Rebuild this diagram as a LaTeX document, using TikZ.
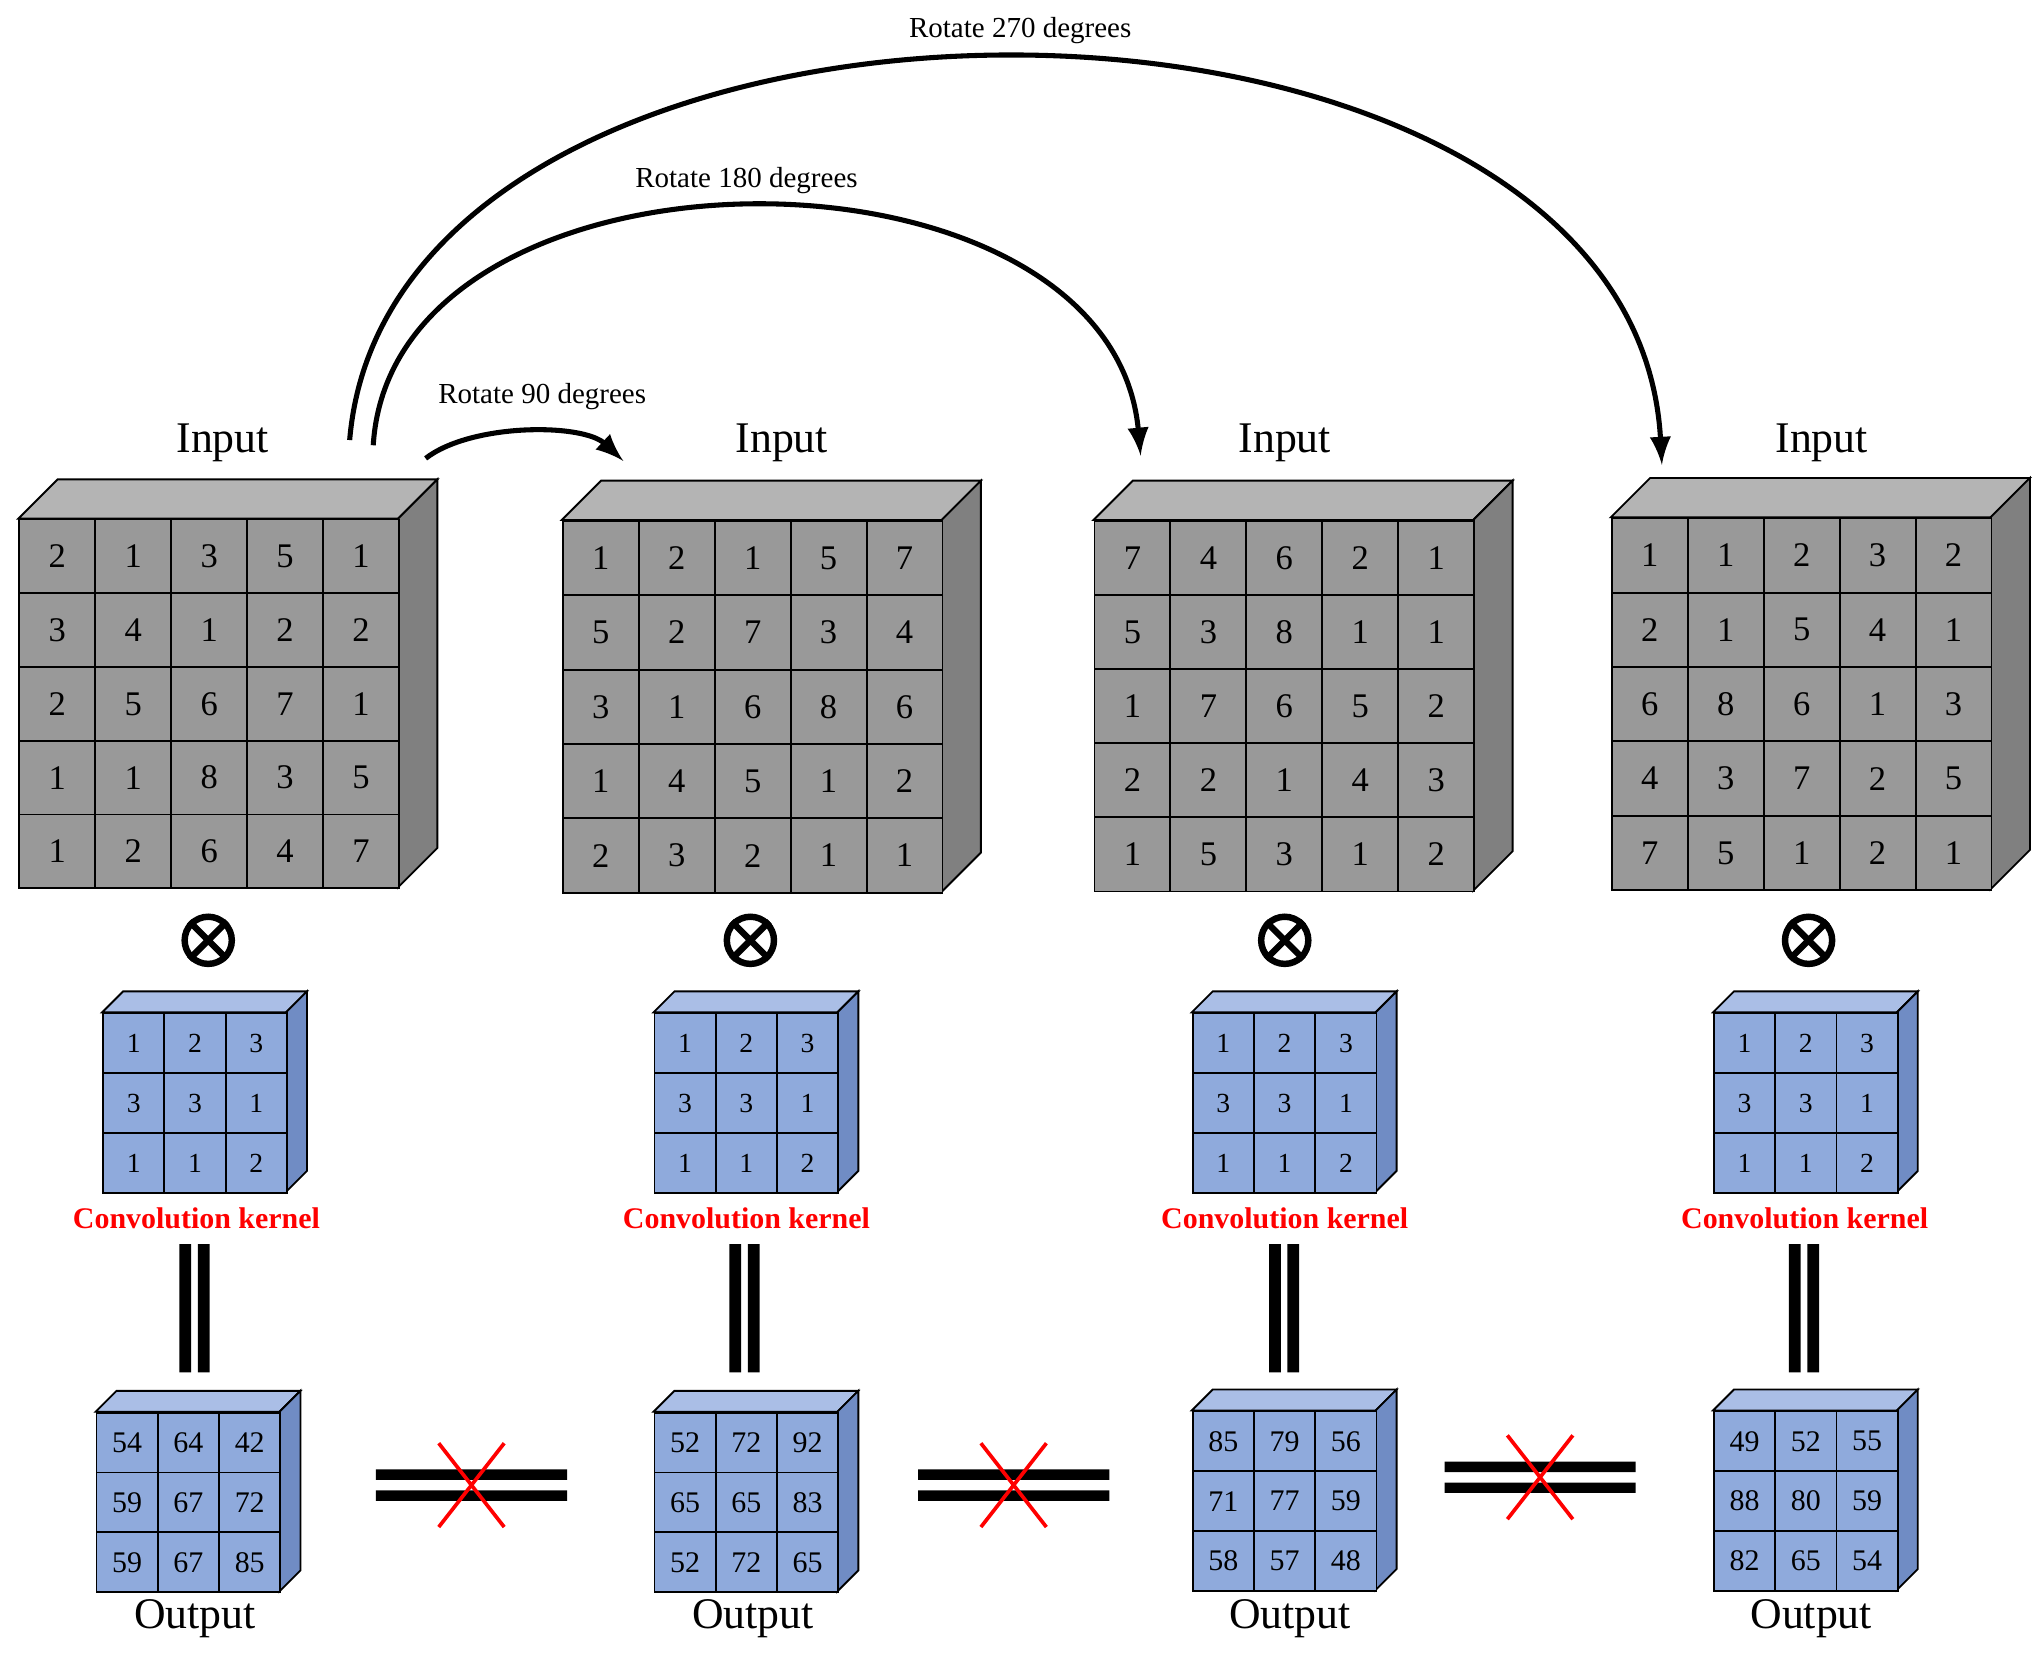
\documentclass[tikz,border=0pt]{standalone}
\usepackage{fontspec}
\setmainfont{Liberation Serif}
\usetikzlibrary{positioning}
\definecolor{intop}{RGB}{180,180,180}
\definecolor{infront}{RGB}{153,153,153}
\definecolor{inside}{RGB}{128,128,128}
\definecolor{kertop}{RGB}{170,190,230}
\definecolor{kerfront}{RGB}{143,170,220}
\definecolor{kerside}{RGB}{112,140,196}
\colorlet{outtop}{kertop}
\colorlet{outside}{kerside}
\tikzset{
	incell/.style={draw, fill=infront, inner sep=0pt, font=\fontsize{7.5}{8}\selectfont},
	kercell/.style={draw, fill=kerfront, inner sep=0pt, font=\fontsize{6}{7}\selectfont},
	outcell/.style={draw, fill=kerfront, inner sep=0pt, font=\fontsize{6.5}{7}\selectfont},
	lbl/.style={font=\fontsize{9.5}{10}\selectfont},
	rot/.style={font=\fontsize{6.3}{7}\selectfont},
	redlbl/.style={text=red, font=\bfseries\fontsize{6.5}{7}\selectfont},
	otimes/.style={draw, circle, line width=1.4pt, minimum size=0.36cm, inner sep=0pt},
	arc/.style={line width=1.1pt, -latex}
}
% #1 name, #2 x, #3 y, #4 cell width, #5 n, #6 depth, #7 style prefix, #8 values, #9 cell height
\newcommand{\block}[9]{%
	\pgfmathsetmacro\W{#4*#5}
	\pgfmathsetmacro\H{#9*#5}
	\filldraw[fill=#7top] (#2,#3) -- ++(#6,-#6) -- ++(\W,0) -- ++(-#6,#6) -- cycle;
	\filldraw[fill=#7side] (#2+\W,#3) -- ++(#6,-#6) -- ++(0,\H) -- ++(-#6,#6) -- cycle;
	\foreach \v [count=\i from 0] in {#8} {
		\pgfmathtruncatemacro\cc{mod(\i,#5)}
		\pgfmathtruncatemacro\rr{int(\i/#5)}
		\node[#7cell, minimum width={#4*0.01cm}, minimum height={#9*0.01cm}, anchor=north west] (#1-\rr-\cc) at ({#2+\cc*#4},{#3+\rr*#9}) {\v};
	}}
\begin{document}
\begin{tikzpicture}[x=0.01cm, y=-0.01cm]
	\useasboundingbox (0,0) rectangle (1560,1263);

	%%% Входы
	\block{ina}{14}{396}{58}{5}{30}{in}{2,1,3,5,1,3,4,1,2,2,2,5,6,7,1,1,1,8,3,5,1,2,6,4,7}{56.3}
	\block{inb}{429}{397}{58}{5}{30}{in}{1,2,1,5,7,5,2,7,3,4,3,1,6,8,6,1,4,5,1,2,2,3,2,1,1}{56.8}
	\block{inc}{835}{397}{58}{5}{30}{in}{7,4,6,2,1,5,3,8,1,1,1,7,6,5,2,2,2,1,4,3,1,5,3,1,2}{56.6}
	\block{ind}{1230}{395}{58}{5}{30}{in}{1,1,2,3,2,2,1,5,4,1,6,8,6,1,3,4,3,7,2,5,7,5,1,2,1}{56.8}

	%%% Ядра
	\block{kea}{78}{773}{46.8}{3}{16}{ker}{1,2,3,3,3,1,1,1,2}{45.7}
	\block{keb}{499}{773}{46.8}{3}{16}{ker}{1,2,3,3,3,1,1,1,2}{45.7}
	\block{kec}{910}{773}{46.8}{3}{16}{ker}{1,2,3,3,3,1,1,1,2}{45.7}
	\block{ked}{1308}{773}{46.8}{3}{16}{ker}{1,2,3,3,3,1,1,1,2}{45.7}

	%%% Выходы
	\block{oua}{73}{1078}{46.8}{3}{16}{out}{54,64,42,59,67,72,59,67,85}{45.7}
	\block{oub}{499}{1078}{46.8}{3}{16}{out}{52,72,92,65,65,83,52,72,65}{45.7}
	\block{ouc}{910}{1077}{46.8}{3}{16}{out}{85,79,56,71,77,59,58,57,48}{45.7}
	\block{oud}{1308}{1077}{46.8}{3}{16}{out}{49,52,55,88,80,59,82,65,54}{45.7}

	%%% Подписи и знаки
	\foreach \n/\xi/\xk/\xo in {a/170/150/149, b/597/570/575, c/981/981/985, d/1391/1378/1383} {
		\node[lbl] (lin\n) at (\xi,338) {Input};
		\node[lbl] (lout\n) at (\xo,1236) {Output};
		\node[redlbl] (lker\n) at (\xk,930) {Convolution kernel};
	}
	\foreach \n/\x in {a/159, b/573, c/981, d/1381} {
		\node[otimes] (ot\n) at (\x,718) {};
		\draw[line width=1.4pt] (ot\n.north west) -- (ot\n.south east) (ot\n.north east) -- (ot\n.south west);
	}
	\foreach \x in {148, 568, 980, 1377}
		\fill (\x-11,950) rectangle (\x-2,1048) (\x+3,950) rectangle (\x+12,1048);
	\foreach \x/\y in {360/1134, 774/1134, 1176/1128} {
		\fill (\x-73,\y-12) rectangle (\x+73,\y-4) (\x-73,\y+4) rectangle (\x+73,\y+12);
		\draw[red, thick] (\x-25,\y-32) -- (\x+25,\y+32) (\x+25,\y-32) -- (\x-25,\y+32);
	}

	%%% Стрелки
	\coordinate (s90) at (325,350);   \coordinate (e90) at (476,352);
	\coordinate (s180) at (285,340);  \coordinate (e180) at (871,348);
	\coordinate (s270) at (267,336);  \coordinate (e270) at (1269,355);
	\draw[arc] (s90) .. controls (360,323) and (445,323) .. (e90);
	\draw[arc] (s180) .. controls (300,96) and (848,96) .. (e180);
	\draw[arc] (s270) .. controls (300,-56) and (1247,-56) .. (e270);
	\node[rot] (r90) at (414,303) {Rotate 90 degrees};
	\node[rot] (r180) at (570,138) {Rotate 180 degrees};
	\node[rot] (r270) at (779,23) {Rotate 270 degrees};
\end{tikzpicture}
\end{document}
